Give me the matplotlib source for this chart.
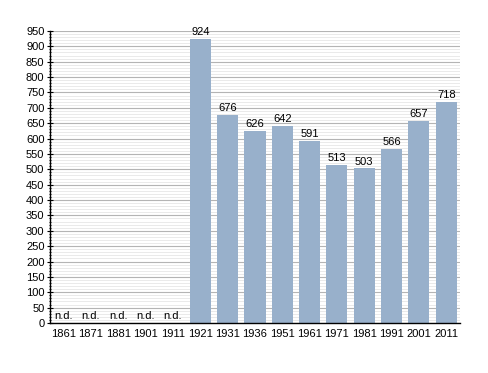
import matplotlib
matplotlib.use("Agg")
import matplotlib.pyplot as plt
import numpy as np
from matplotlib.ticker import MultipleLocator

years = ["1861", "1871", "1881", "1901", "1911", "1921", "1931", "1936",
         "1951", "1961", "1971", "1981", "1991", "2001", "2011"]
values = [None, None, None, None, None, 924, 676, 626, 642, 591, 513, 503, 566, 657, 718]

fig = plt.figure(figsize=(4.88, 3.73), dpi=100)
ax = fig.add_axes([0.1025, 0.134, 0.840, 0.783])

x = np.arange(len(years))
for yv in range(0, 951, 10):
    if yv % 50 == 0:
        ax.axhline(yv, color="#b4b4b4", lw=0.8, zorder=0)
    else:
        ax.axhline(yv, color="#e6e6e6", lw=0.6, zorder=0)

fs = 8
for i, v in enumerate(values):
    if v is None:
        ax.text(i, 5, "n.d.", ha="center", va="bottom", fontsize=fs, family="Liberation Sans")
    else:
        ax.bar(i, v, width=0.77, color="#98b0cb", zorder=2)
        ax.text(i, v + 6, str(v), ha="center", va="bottom", fontsize=fs, family="Liberation Sans")

ax.set_xlim(-0.5, len(years) - 0.5)
ax.set_ylim(0, 950)
ax.set_xticks(x)
ax.set_xticklabels(years, fontsize=fs, family="Liberation Sans")
ax.set_yticks(range(0, 951, 50))
ax.set_yticklabels([str(t) for t in range(0, 951, 50)], fontsize=fs, family="Liberation Sans")
ax.yaxis.set_minor_locator(MultipleLocator(10))
ax.tick_params(axis="x", length=0, pad=4)
ax.tick_params(axis="y", which="major", length=4, width=0.8, direction="inout", pad=2)
ax.tick_params(axis="y", which="minor", length=2, width=0.6, direction="inout")
for s in ["top", "right"]:
    ax.spines[s].set_visible(False)
ax.spines["left"].set_linewidth(1.0)
ax.spines["bottom"].set_linewidth(1.0)

fig.savefig("out.png", dpi=100, facecolor="white")
